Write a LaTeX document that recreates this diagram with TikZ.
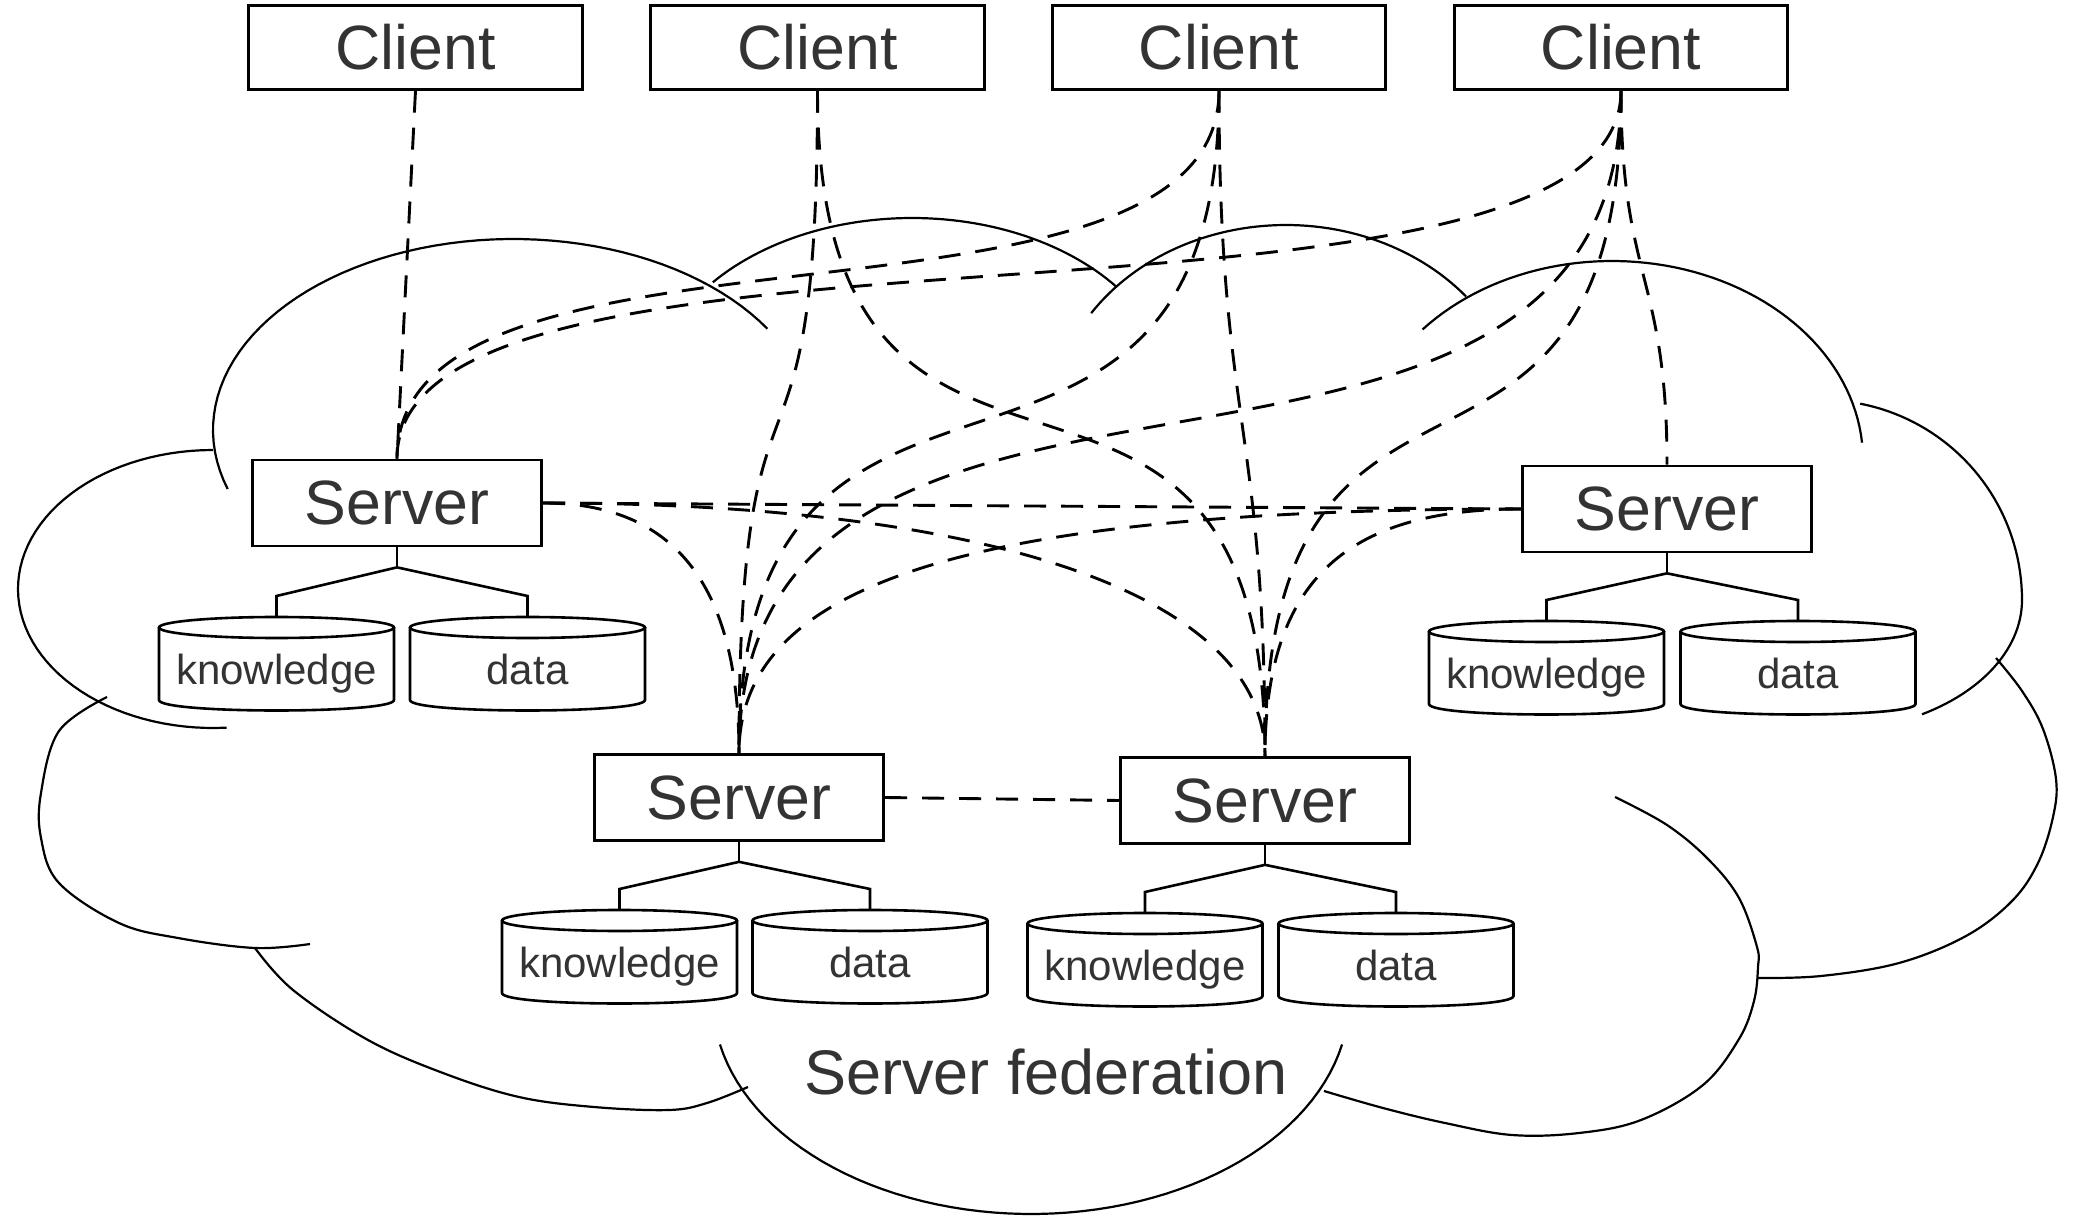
\documentclass[tikz,border=0pt]{standalone}
\usepackage{fontspec}
\setmainfont{Liberation Sans}
\usetikzlibrary{calc}
\definecolor{txt}{RGB}{51,51,51}
\newcommand\dbcyl[4]{%
  \coordinate (#1) at (#2,#3);
  \draw[cyl] (#2,#3+10.5) ellipse [x radius=58.75pt, y radius=5.25pt];
  \draw[cyl] (#2-117.5,#3+10.5) -- (#2-117.5,#3+83) .. controls (#2-117.5,#3+97) and (#2+117.5,#3+97) .. (#2+117.5,#3+83) -- (#2+117.5,#3+10.5);
  \node[dbtxt] (#1t) at (#2,#3+67) {#4};
}
\newcommand\dbbranch[3]{%
  \draw[branch] (#1.south) -- ($(#1.south)+(0,20)$);
  \draw[branch] (#2) -- ($(#2)+(0,-21)$) -- ($(#1.south)+(0,20)$) -- ($(#3)+(0,-21)$) -- (#3);
}
\newcommand\vcurve[4]{%
  \draw[conn] (#1) .. controls ($(#1)+(0,#3)$) and ($(#2)+(0,-#4)$) .. (#2);
}
\begin{document}
\begin{tikzpicture}[x=0.5pt, y=-0.5pt,
  box/.style={draw, line width=1.35pt, minimum width=166.7pt, minimum height=42pt, inner sep=0pt, text=txt, font=\fontsize{31.3}{36}\selectfont},
  srv/.style={box, minimum width=144.7pt, minimum height=43pt},
  dbtxt/.style={text=txt, font=\fontsize{21}{25}\selectfont, anchor=base, inner sep=0pt},
  conn/.style={line width=1.45pt, dash pattern=on 11pt off 7.5pt},
  cloudline/.style={line width=1.1pt},
  branch/.style={line width=1.3pt},
  cyl/.style={line width=1.3pt}]
\fill[white] (0,0) rectangle (2088,1224);
\useasboundingbox (0,0) rectangle (2088,1224);

% ---- cloud ----
\begin{scope}[cloudline]
\draw plot[domain=162:328, samples=60, variable=\t] ({513+300*cos(\t)}, {430+191*sin(\t)});
\draw plot[domain=86:270, samples=60, variable=\t] ({213+195*cos(\t)}, {589+139*sin(\t)});
\draw plot[smooth, tension=0.6] coordinates {(107,697) (59,731) (41,793) (41,838) (59,883) (119,923) (178,938) (255,948) (310,944)};
\draw plot[smooth, tension=0.6] coordinates {(255,948) (293,990) (368,1040) (443,1073) (519,1097) (594,1107) (669,1110) (707,1103) (748,1087)};
\draw plot[domain=12:168, samples=60, variable=\t] ({1031+318*cos(\t)}, {1000+214*sin(\t)});
\draw plot[smooth, tension=0.6] coordinates {(1324,1091) (1383,1108) (1445,1123) (1512,1135) (1579,1133) (1641,1120) (1703,1085) (1739,1039) (1754,1001) (1758,967) (1757,947) (1739,898) (1708,859) (1667,825) (1615,797)};
\draw plot[smooth, tension=0.6] coordinates {(1996,658) (2022,691) (2043,729) (2056,779) (2053,817) (2038,863) (2012,901) (1966,936) (1899,963) (1821,976) (1757,978)};
\draw plot[domain=281:360, samples=40, variable=\t] ({1822+200*cos(\t)}, {600+200*sin(\t)})
      -- plot[domain=0:60, samples=30, variable=\t] ({1822+200*cos(\t)}, {600+132*sin(\t)});
\draw plot[domain=221:355, samples=60, variable=\t] ({1612+251*cos(\t)}, {460+199*sin(\t)});
\draw plot[domain=214:320, samples=60, variable=\t] ({1286+235*cos(\t)}, {425+200*sin(\t)});
\draw plot[domain=220:322, samples=60, variable=\t] ({912+260*cos(\t)}, {398+180*sin(\t)});
\end{scope}

% ---- nodes ----
\node[box] (c1) at (415.5,47.3) {Client};
\node[box] (c2) at (817.5,47.3) {Client};
\node[box] (c3) at (1219,47.3) {Client};
\node[box] (c4) at (1621,47.3) {Client};
\node[srv] (s1) at (397,503) {Server};
\node[srv] (s2) at (1667,509) {Server};
\node[srv] (s3) at (739,797.5) {Server};
\node[srv] (s4) at (1265,800.5) {Server};

\dbcyl{k1}{276.5}{617}{knowledge}
\dbcyl{d1}{527.5}{617}{data}
\dbcyl{k2}{1546.5}{621}{knowledge}
\dbcyl{d2}{1798}{621}{data}
\dbcyl{k3}{619.5}{910}{knowledge}
\dbcyl{d3}{870}{910}{data}
\dbcyl{k4}{1145}{913}{knowledge}
\dbcyl{d4}{1396}{913}{data}

\dbbranch{s1}{k1}{d1}
\dbbranch{s2}{k2}{d2}
\dbbranch{s3}{k3}{d3}
\dbbranch{s4}{k4}{d4}

\node[text=txt, font=\fontsize{31.5}{36}\selectfont, anchor=base, inner sep=0pt] (fed) at (1046,1094) {Server federation};

% ---- connectors ----
\draw[conn] (c1.south) -- (s1.north);
\vcurve{c2.south}{s3.north}{450}{450}
\vcurve{c2.south}{s4.north}{520}{520}
\vcurve{c3.south}{s1.north}{270}{270}
\vcurve{c3.south}{s3.north}{500}{500}
\vcurve{c3.south}{s4.north}{333}{333}
\vcurve{c4.south}{s1.north}{280}{280}
\vcurve{c4.south}{s3.north}{505}{505}
\vcurve{c4.south}{s4.north}{480}{480}
\vcurve{c4.south}{s2.north}{190}{190}
\draw[conn] (s1.east) -- (s2.west);
\draw[conn] (s1.east) .. controls ($(s1.east)+(130,0)$) and ($(s3.north)+(0,-170)$) .. (s3.north);
\draw[conn] (s1.east) .. controls ($(s1.east)+(450,0)$) and ($(s4.north)+(0,-160)$) .. (s4.north);
\draw[conn] (s2.west) .. controls ($(s2.west)+(-550,0)$) and ($(s3.north)+(0,-170)$) .. (s3.north);
\draw[conn] (s2.west) .. controls ($(s2.west)+(-170,0)$) and ($(s4.north)+(0,-180)$) .. (s4.north);
\draw[conn] (s3.east) -- (s4.west);
\end{tikzpicture}
\end{document}
